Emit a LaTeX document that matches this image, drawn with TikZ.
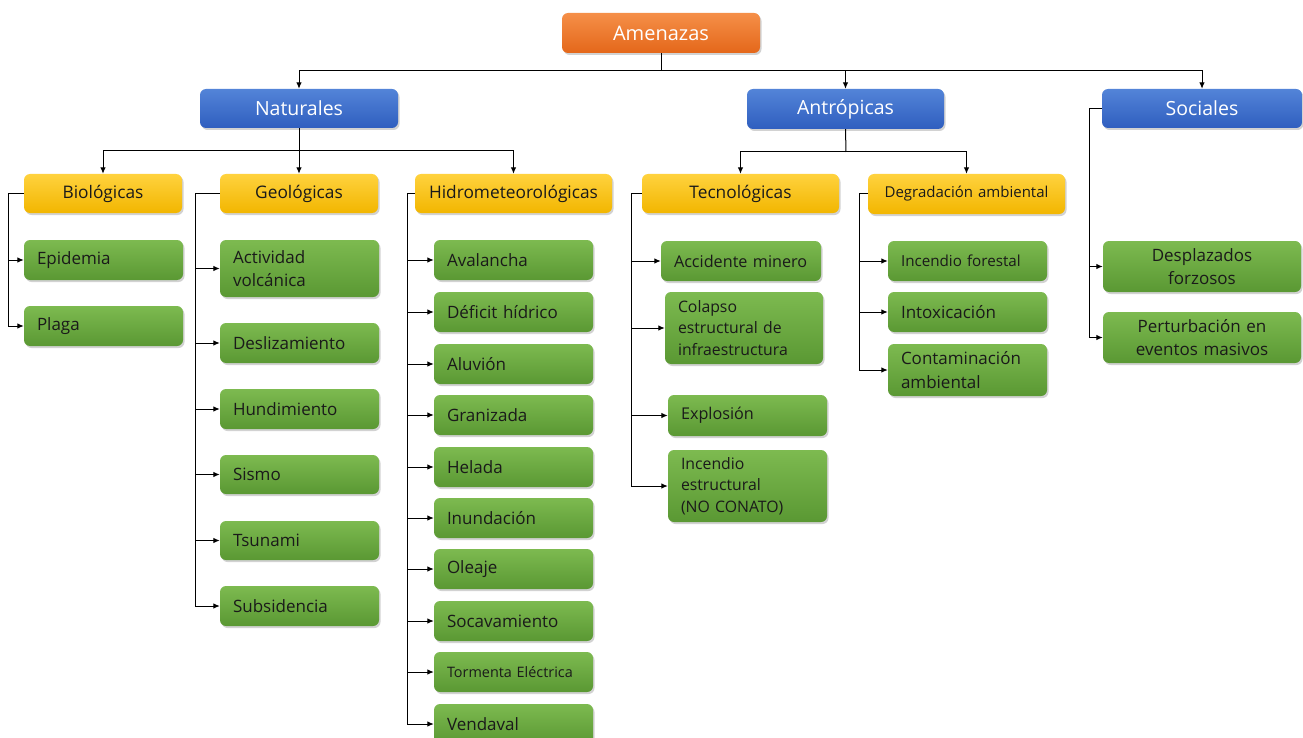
\documentclass[tikz,border=0pt]{standalone}
\usepackage{fontspec}
\setmainfont{Open Sans}
\usetikzlibrary{arrows.meta,shadows,calc}
\definecolor{orT}{HTML}{F58F48}
\definecolor{orB}{HTML}{E4671A}
\definecolor{blT}{HTML}{5384D8}
\definecolor{blB}{HTML}{2F5EBF}
\definecolor{ylT}{HTML}{FFD23E}
\definecolor{ylB}{HTML}{F2B600}
\definecolor{grT}{HTML}{7DBA50}
\definecolor{grB}{HTML}{5A9833}
\definecolor{txt}{HTML}{1A1A1A}
\hyphenpenalty=10000
\exhyphenpenalty=10000
\tikzset{
  basebox/.style={rectangle, rounded corners=6pt, inner xsep=13pt, inner ysep=0pt,
    drop shadow={opacity=0.35, shadow xshift=1.5pt, shadow yshift=-2pt}},
  orbox/.style={basebox, top color=orT, bottom color=orB, text=white, align=center,
    font=\fontsize{20}{24}\selectfont},
  blbox/.style={basebox, top color=blT, bottom color=blB, text=white, align=center,
    font=\fontsize{19.5}{24}\selectfont},
  ylbox/.style={basebox, top color=ylT, bottom color=ylB, text=txt, align=center,
    font=\fontsize{17.3}{21}\selectfont},
  grbox/.style={basebox, top color=grT, bottom color=grB, text=txt, align=left,
    font=\fontsize{17}{23.5}\selectfont},
  grboxc/.style={grbox, align=center},
  conn/.style={draw=black, line width=1pt},
  arr/.style={conn, -{Latex[length=6.5pt,width=5.5pt]}}
}
% style, name, x1, y1, x2, y2, text
\newcommand\mybox[7]{%
  \pgfmathsetmacro\bw{#5-#3}%
  \pgfmathsetmacro\bh{#6-#4}%
  \pgfmathsetmacro\tw{#5-#3-26}%
  \node[#1, minimum width=\bw pt, minimum height=\bh pt, text width=\tw pt] (#2)
    at ({(#3+#5)/2},{(#4+#6)/2}) {#7};}
\begin{document}
\begin{tikzpicture}[x=1pt,y=-1pt]
\fill[white] (0,0) rectangle (1303,738);
\useasboundingbox (0,0) rectangle (1303,738);

% level 0
\mybox{orbox}{am}{562}{13}{760}{53}{Amenazas}
% level 1
\mybox{blbox}{nat}{200}{89}{398}{128}{Naturales}
\mybox{blbox}{ant}{747}{89}{944}{129}{Antrópicas}
\mybox{blbox}{soc}{1102}{89}{1302}{128}{Sociales}
% level 2
\mybox{ylbox}{bio}{24}{174}{182}{213}{Biológicas}
\mybox{ylbox}{geo}{220}{174}{378}{213}{Geológicas}
\mybox{ylbox}{hid}{415}{174}{612}{213}{Hidrometeorológicas}
\mybox{ylbox}{tec}{642}{174}{839}{213}{Tecnológicas}
\mybox{ylbox, font=\fontsize{15}{18}\selectfont}{deg}{868}{174}{1065}{214}{Degradación ambiental}

% Biológicas
\mybox{grbox}{epi}{24}{240}{183}{280}{Epidemia}
\mybox{grbox}{pla}{24}{306}{183}{346}{Plaga}
% Geológicas
\mybox{grbox}{act}{220}{240}{379}{297}{Actividad\\volcánica}
\mybox{grbox}{des}{220}{323}{379}{363}{Deslizamiento}
\mybox{grbox}{hun}{220}{389}{379}{429}{Hundimiento}
\mybox{grbox}{sis}{220}{455}{379}{494}{Sismo}
\mybox{grbox}{tsu}{220}{521}{379}{560}{Tsunami}
\mybox{grbox}{sub}{220}{586}{379}{626}{Subsidencia}
% Hidrometeorológicas
\mybox{grbox}{ava}{434}{240}{593}{280}{Avalancha}
\mybox{grbox}{def}{434}{292}{593}{332}{Déficit hídrico}
\mybox{grbox}{alu}{434}{344}{593}{384}{Aluvión}
\mybox{grbox}{gra}{434}{395}{593}{435}{Granizada}
\mybox{grbox}{hel}{434}{447}{593}{487}{Helada}
\mybox{grbox}{inu}{434}{498}{593}{538}{Inundación}
\mybox{grbox}{ole}{434}{549}{593}{589}{Oleaje}
\mybox{grbox}{soca}{434}{601}{593}{641}{Socavamiento}
\mybox{grbox, font=\fontsize{14.4}{18}\selectfont}{tor}{434}{652}{593}{692}{Tormenta Eléctrica}
\mybox{grbox}{ven}{434}{704}{593}{744}{Vendaval}
% Tecnológicas
\mybox{grbox, font=\fontsize{16.2}{21.5}\selectfont}{acc}{661}{241}{821}{281}{Accidente minero}
\mybox{grbox, font=\fontsize{15.8}{21.5}\selectfont}{col}{665}{292}{823}{364}{Colapso\\estructural de\\infraestructura}
\mybox{grbox, font=\fontsize{16.2}{21.5}\selectfont}{exp}{668}{395}{827}{436}{Explosión}
\mybox{grbox, font=\fontsize{15.8}{21.5}\selectfont}{ince}{668}{450}{827}{522}{Incendio\\estructural\\(NO CONATO)}
% Degradación ambiental
\mybox{grbox, font=\fontsize{15.2}{21.5}\selectfont}{inf}{888}{241}{1047}{281}{Incendio forestal}
\mybox{grbox}{int}{888}{292}{1047}{332}{Intoxicación}
\mybox{grbox}{con}{888}{344}{1047}{396}{Contaminación\\ambiental}
% Sociales
\mybox{grboxc}{dpl}{1103}{241}{1301}{292}{Desplazados\\forzosos}
\mybox{grboxc}{per}{1103}{312}{1301}{363}{Perturbación en\\eventos masivos}

% connectors level 0 -> 1
\coordinate (j0) at (661,71);
\draw[conn] (am.south) -- (j0);
\draw[arr] (j0) -| (nat.north);
\draw[arr] (j0) -| (ant.north);
\draw[arr] (j0) -| (soc.north);
% Naturales -> level 2
\coordinate (j1) at (299,151);
\draw[conn] (nat.south) -- (j1);
\draw[arr] (j1) -| (bio.north);
\draw[arr] (j1) -- (geo.north);
\draw[arr] (j1) -| (hid.north);
% Antrópicas -> level 2
\coordinate (j2) at (846,152);
\draw[conn] (ant.south) -- (j2);
\draw[arr] (j2) -| (tec.north);
\draw[arr] (j2) -| (deg.north);

% brackets
\coordinate (bB) at (8,193.5);
\draw[conn] (bio.west) -- (bB);
\foreach \c in {epi,pla} \draw[arr] (bB) |- (\c.west);
\coordinate (gB) at (195,193.5);
\draw[conn] (geo.west) -- (gB);
\foreach \c in {act,des,hun,sis,tsu,sub} \draw[arr] (gB) |- (\c.west);
\coordinate (hB) at (407,193.5);
\draw[conn] (hid.west) -- (hB);
\foreach \c in {ava,def,alu,gra,hel,inu,ole,soca,tor,ven} \draw[arr] (hB) |- (\c.west);
\coordinate (tB) at (631,193.5);
\draw[conn] (tec.west) -- (tB);
\foreach \c in {acc,col,exp,ince} \draw[arr] (tB) |- (\c.west);
\coordinate (dB) at (859,194);
\draw[conn] (deg.west) -- (dB);
\foreach \c in {inf,int,con} \draw[arr] (dB) |- (\c.west);
\coordinate (sB) at (1089,108.5);
\draw[conn] (soc.west) -- (sB);
\foreach \c in {dpl,per} \draw[arr] (sB) |- (\c.west);
\end{tikzpicture}
\end{document}
